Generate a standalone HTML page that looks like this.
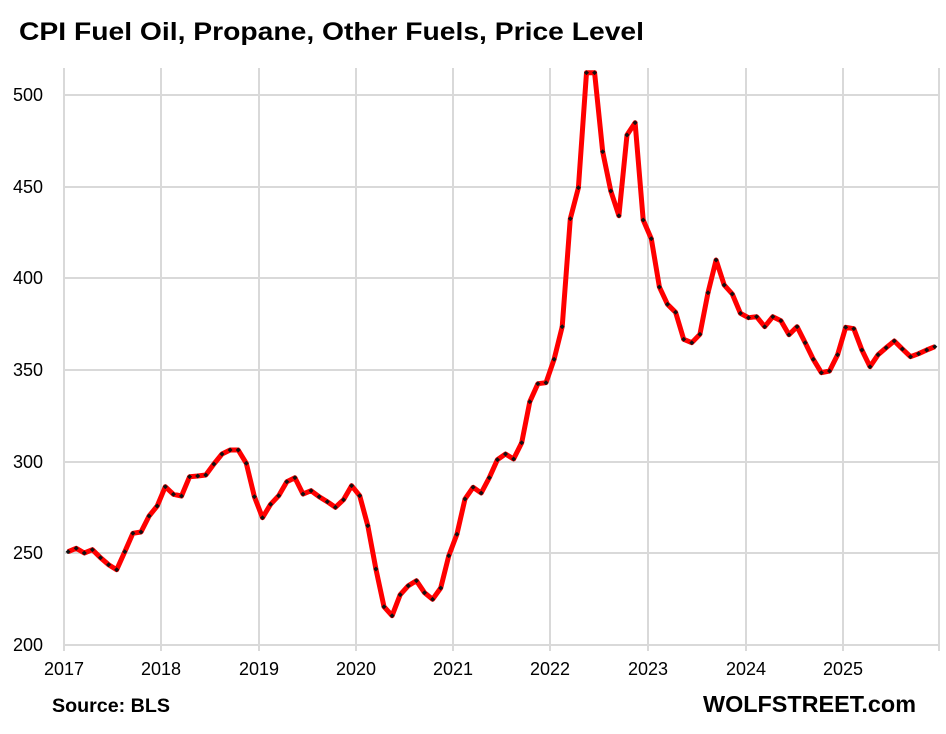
<!DOCTYPE html>
<html><head><meta charset="utf-8"><style>
html,body{margin:0;padding:0;background:#fff;}
svg{display:block;font-family:"Liberation Sans",sans-serif;}
</style></head><body>
<svg width="946" height="734" viewBox="0 0 946 734" xmlns="http://www.w3.org/2000/svg">
<defs>
<marker id="m" viewBox="-2.5 -2.5 5 5" markerWidth="5" markerHeight="5" markerUnits="userSpaceOnUse" refX="0" refY="0">
<polygon points="0,-2.5 2.5,0 0,2.5 -2.5,0" fill="#111"/>
</marker>
</defs>
<text x="19" y="40" font-size="25" font-weight="bold" textLength="625" lengthAdjust="spacingAndGlyphs">CPI Fuel Oil, Propane, Other Fuels, Price Level</text>
<g stroke="#d9d9d9" stroke-width="2">
<line x1="64" y1="95" x2="939" y2="95"/>
<line x1="64" y1="187" x2="939" y2="187"/>
<line x1="64" y1="278" x2="939" y2="278"/>
<line x1="64" y1="370" x2="939" y2="370"/>
<line x1="64" y1="462" x2="939" y2="462"/>
<line x1="64" y1="553" x2="939" y2="553"/>
<line x1="64" y1="645" x2="939" y2="645"/>
<line x1="64" y1="68" x2="64" y2="651"/>
<line x1="161" y1="68" x2="161" y2="651"/>
<line x1="259" y1="68" x2="259" y2="651"/>
<line x1="356" y1="68" x2="356" y2="651"/>
<line x1="453" y1="68" x2="453" y2="651"/>
<line x1="550" y1="68" x2="550" y2="651"/>
<line x1="648" y1="68" x2="648" y2="651"/>
<line x1="746" y1="68" x2="746" y2="651"/>
<line x1="843" y1="68" x2="843" y2="651"/>
<line x1="939" y1="68" x2="939" y2="651"/>
</g>
<g font-size="18" text-anchor="end">
<text x="43" y="101">500</text><text x="43" y="193">450</text><text x="43" y="284">400</text>
<text x="43" y="376">350</text><text x="43" y="468">300</text><text x="43" y="559">250</text><text x="43" y="651">200</text>
</g>
<g font-size="18" text-anchor="middle">
<text x="64" y="675">2017</text><text x="161" y="675">2018</text><text x="259" y="675">2019</text>
<text x="356" y="675">2020</text><text x="453" y="675">2021</text><text x="550" y="675">2022</text>
<text x="648" y="675">2023</text><text x="746" y="675">2024</text><text x="843" y="675">2025</text>
</g>
<text x="52" y="712" font-size="19" font-weight="bold" textLength="118" lengthAdjust="spacingAndGlyphs">Source: BLS</text>
<text x="703" y="712" font-size="23" font-weight="bold" textLength="213" lengthAdjust="spacingAndGlyphs">WOLFSTREET.com</text>
<polyline fill="none" stroke="#ff0000" stroke-width="5" stroke-linejoin="round" marker-start="url(#m)" marker-mid="url(#m)" marker-end="url(#m)" points="
68.1,551.7 76.2,548.3 84.3,553 92.4,549.7 100.5,557.7 108.6,564.7 116.7,569.7 124.8,551.7 132.9,533.3 141,532 149.1,516 157.2,506
165.3,486.7 173.4,494.3 181.5,496 189.6,476.7 197.7,476 205.8,475 213.9,464 222,454 230.1,450 238.2,450 246.3,463.3 254.4,496.7
262.5,517.7 270.6,504.3 278.7,495.7 286.8,481.7 294.9,477.7 303,494 311.1,490.7 319.2,496.7 327.3,501.7 335.4,507.3 343.5,499.7 351.6,485.7
359.7,495.7 367.8,525.7 375.9,569 384,606.7 392.1,615.7 400.2,594.7 408.3,585.7 416.4,580.7 424.5,592.7 432.6,599.3 440.7,588 448.8,555.7
456.9,534.3 465,499 473.1,487.3 481.2,493 489.3,477.7 497.4,459.7 505.5,454 513.6,459 521.7,442.7 529.8,401.7 537.9,383.7 546,382.7
554.1,359.3 562.2,326.7 570.3,218.7 578.4,187.7 586.5,72.7 594.6,72.7 602.7,151.7 610.8,191 618.9,215.7 627,135 635.1,122.7 643.2,220
651.3,238.7 659.4,287 667.5,304.3 675.6,312.3 683.7,339.3 691.8,342.7 699.9,334.3 708,292.7 716.1,260 724.2,285 732.3,294 740.4,313.3
748.5,317.7 756.6,316.7 764.7,326.7 772.8,316.7 780.9,320.7 789,334.7 797.1,326.7 805.2,342.7 813.3,359.3 821.4,372.7 829.5,371 837.6,354.7
845.7,327.3 853.8,328.7 861.9,350 870,366.7 878.1,354.7 886.2,347.7 894.3,341 902.4,349 910.5,356.7 918.6,353.7 926.7,350 934.8,346.7"/>
</svg>
</body></html>
